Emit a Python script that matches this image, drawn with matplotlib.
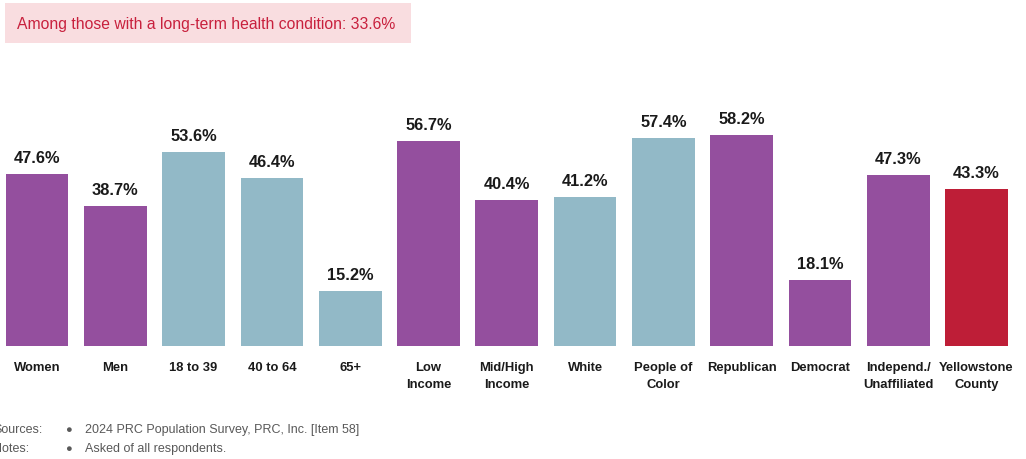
import matplotlib
matplotlib.use("Agg")
import matplotlib.pyplot as plt
from matplotlib.patches import Rectangle

plt.rcParams["font.family"] = ["Liberation Sans", "DejaVu Sans"]

categories = ["Women", "Men", "18 to 39", "40 to 64", "65+", "Low\nIncome",
              "Mid/High\nIncome", "White", "People of\nColor", "Republican",
              "Democrat", "Independ./\nUnaffiliated", "Yellowstone\nCounty"]
values = [47.6, 38.7, 53.6, 46.4, 15.2, 56.7, 40.4, 41.2, 57.4, 58.2, 18.1, 47.3, 43.3]
groups = ["p", "p", "b", "b", "b", "p", "p", "b", "b", "p", "p", "p", "r"]
callout = "Among those with a long-term health condition: 33.6%"
sources = "2024 PRC Population Survey, PRC, Inc. [Item 58]"
notes = "Asked of all respondents."

palette = {"p": "#944F9E", "b": "#92B9C7", "r": "#BE1E37"}

fig = plt.figure(figsize=(10.26, 4.6), dpi=100)
W, H = 1026, 460

# axes positioned so the baseline sits at y=347px, 3.62 px per percent
base_px = 347
ymax = 60
ax = fig.add_axes([0, (H - base_px) / H, 1, ymax * 3.62 / H])
pitch = 78.3
first = 37.0
ax.set_xlim(-first / pitch, (W - first) / pitch)
ax.set_ylim(0, ymax)

x = range(len(values))
ax.bar(x, values, width=0.8, color=[palette[g] for g in groups], zorder=2)
for xi, v in zip(x, values):
    ax.annotate(f"{v:.1f}%", (xi, v), xytext=(0, 6.5), textcoords="offset points",
                ha="center", va="bottom", fontsize=11.8, fontweight="bold",
                color="#1A1A1A", annotation_clip=False)
    ax.annotate(categories[xi], (xi, 0), xytext=(0, -10.5), textcoords="offset points",
                ha="center", va="top", fontsize=9.4, fontweight="bold",
                color="#1A1A1A", linespacing=1.65, annotation_clip=False)

ax.axis("off")

# callout box at the top
fig.patches.append(Rectangle((5 / W, 1 - 44 / H), 406 / W, 40 / H,
                             transform=fig.transFigure, facecolor="#F9DDE0",
                             edgecolor="none"))
fig.text(17 / W, 1 - 25 / H, callout, fontsize=11.3, color="#C8203D",
         va="center", ha="left")

# footer
foot = dict(fontsize=9, color="#595959", va="center", ha="left")
fig.text(-7 / W, 1 - 430 / H, "Sources:", **foot)
fig.text(-7 / W, 1 - 449 / H, "Notes:", **foot)
fig.text(65 / W, 1 - 430 / H, "\u25cf", fontsize=8, color="#595959", va="center", ha="left")
fig.text(65 / W, 1 - 449 / H, "\u25cf", fontsize=8, color="#595959", va="center", ha="left")
fig.text(85 / W, 1 - 430 / H, sources, **foot)
fig.text(85 / W, 1 - 449 / H, notes, **foot)

fig.savefig("out.png", dpi=100)
